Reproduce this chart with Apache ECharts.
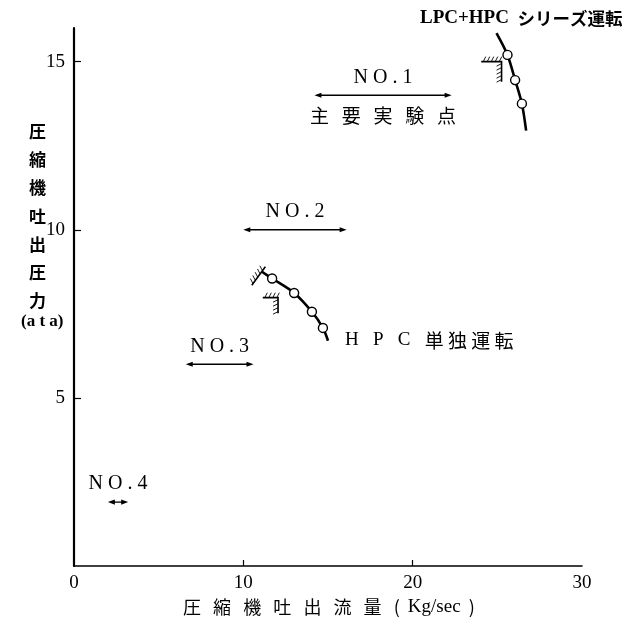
<!DOCTYPE html>
<html><head><meta charset="utf-8">
<script src="https://cdn.jsdelivr.net/npm/echarts@6/dist/echarts.min.js"></script>
<style>html,body{margin:0;padding:0;background:#fff}#chart{width:632px;height:636px}</style>
</head><body><div id="chart"></div>
<script>
// axis ticks
const xLabelValues = [0, 10, 20, 30];
const xTickValues = [10, 20];
const yTickValues = [5, 10, 15];

// LPC+HPC series operation line (flow kg/s, delivery pressure ata)
const seriesFlow = [24.95, 25.6, 26.05, 26.45, 26.7];
const seriesPressure = [15.85, 15.2, 14.45, 13.75, 12.95];
const seriesMeasured = [false, true, true, true, false];

// HPC alone operation line
const singleFlow = [11.1, 11.7, 13.0, 14.05, 14.7, 15.0];
const singlePressure = [8.75, 8.55, 8.12, 7.56, 7.08, 6.7];
const singleMeasured = [false, true, true, true, true, false];

// operating ranges
const rangeNames = ['NO.1', 'NO.2', 'NO.3', 'NO.4'];
const rangeFrom = [14.2, 10.0, 6.6, 2.0];
const rangeTo = [22.3, 16.1, 10.6, 3.2];
const rangeLevel = [14.0, 10.0, 6.0, 1.9];
const rangeNotes = ['主要実験点', '', '', ''];

// surge limit marks (polylines, hatched on the upper-left side)
const surgeMarks = [
  [[24.05, 15.0], [25.25, 15.0], [25.25, 14.4]],
  [[11.15, 7.98], [12.05, 7.98], [12.05, 7.52]],
  [[10.5, 8.35], [11.3, 8.9]]
];

const serif = '"Liberation Serif", "Noto Sans CJK JP", serif';
const cjk = '"Noto Sans CJK JP", "Liberation Serif", sans-serif';

// spread characters apart with a given number of spaces
const spread = (s, n) => s.split('').join(' '.repeat(n));

function lineData(xs, ys, marked) {
  return xs.map((x, i) => ({ value: [x, ys[i]], symbol: marked[i] ? 'circle' : 'none' }));
}

function renderRange(params, api) {
  const i = api.value(3);
  const a = api.coord([api.value(0), api.value(2)]);
  const b = api.coord([api.value(1), api.value(2)]);
  const y = a[1];
  const h = 7, w = 2.6;
  const cx = (a[0] + b[0]) / 2;
  const children = [
    { type: 'line', shape: { x1: a[0] + 3, y1: y, x2: b[0] - 3, y2: y }, style: { stroke: '#000', lineWidth: 1.3 } },
    { type: 'polygon', shape: { points: [[a[0], y], [a[0] + h, y - w], [a[0] + h, y + w]] }, style: { fill: '#000' } },
    { type: 'polygon', shape: { points: [[b[0], y], [b[0] - h, y - w], [b[0] - h, y + w]] }, style: { fill: '#000' } },
    { type: 'text', style: { text: spread(rangeNames[i], 1), x: cx, y: y - 18, align: 'center', verticalAlign: 'middle', font: '20px ' + serif, fill: '#000' } }
  ];
  if (rangeNotes[i]) {
    children.push({ type: 'text', style: { text: spread(rangeNotes[i], 3), x: cx, y: y + 21, align: 'center', verticalAlign: 'middle', font: '19px ' + cjk, fill: '#000' } });
  }
  return { type: 'group', children };
}

function renderSurge(params, api) {
  const pts = surgeMarks[params.dataIndex].map(p => api.coord(p));
  const children = [{ type: 'polyline', shape: { points: pts }, style: { stroke: '#000', lineWidth: 1.6, fill: null } }];
  for (let k = 0; k < pts.length - 1; k++) {
    const p = pts[k], q = pts[k + 1];
    const dx = q[0] - p[0], dy = q[1] - p[1];
    const len = Math.hypot(dx, dy);
    const ux = dx / len, uy = dy / len;
    let nx = uy, ny = -ux;
    if (nx + ny > 0) { nx = -nx; ny = -ny; }
    for (let s = 2; s < len - 1; s += 4) {
      const bx = p[0] + ux * s, by = p[1] + uy * s;
      const ex = bx + nx * 5 + ux * 2.5, ey = by + ny * 5 + uy * 2.5;
      children.push({ type: 'line', shape: { x1: bx, y1: by, x2: ex, y2: ey }, style: { stroke: '#000', lineWidth: 0.9 } });
    }
  }
  return { type: 'group', children };
}

const chart = echarts.init(document.getElementById('chart'), null, { renderer: 'canvas' });
chart.setOption({
  animation: false,
  backgroundColor: '#fff',
  grid: { left: 74, right: 50, top: 28, bottom: 70, containLabel: false },
  xAxis: {
    type: 'value', min: 0, max: 30, interval: 10,
    axisLine: { lineStyle: { color: '#000', width: 1.6 } },
    axisTick: { inside: true, length: 6, customValues: xTickValues, lineStyle: { color: '#000', width: 1.2 } },
    axisLabel: { customValues: xLabelValues, margin: 8, color: '#000', fontSize: 19, fontFamily: serif },
    splitLine: { show: false }
  },
  yAxis: {
    type: 'value', min: 0, max: 16, interval: 5,
    axisLine: { lineStyle: { color: '#000', width: 2.2 } },
    axisTick: { inside: true, length: 7, customValues: yTickValues, lineStyle: { color: '#000', width: 1.2 } },
    axisLabel: { customValues: yTickValues, margin: 9, color: '#000', fontSize: 19, fontFamily: serif },
    splitLine: { show: false }
  },
  series: [
    {
      type: 'line', name: 'LPC+HPC', data: lineData(seriesFlow, seriesPressure, seriesMeasured),
      smooth: 0.3, showAllSymbol: true, symbolSize: 9,
      lineStyle: { color: '#000', width: 2.6 },
      itemStyle: { color: '#fff', borderColor: '#000', borderWidth: 1.4 }, z: 3
    },
    {
      type: 'line', name: 'HPC', data: lineData(singleFlow, singlePressure, singleMeasured),
      smooth: 0.3, showAllSymbol: true, symbolSize: 9,
      lineStyle: { color: '#000', width: 2.6 },
      itemStyle: { color: '#fff', borderColor: '#000', borderWidth: 1.4 }, z: 3
    },
    {
      type: 'custom', renderItem: renderRange, silent: true,
      encode: { x: [0, 1], y: 2 },
      data: rangeNames.map((n, i) => [rangeFrom[i], rangeTo[i], rangeLevel[i], i])
    },
    {
      type: 'custom', renderItem: renderSurge, silent: true,
      encode: { x: 0, y: 1 },
      data: surgeMarks.map(m => m[0])
    }
  ],
  graphic: [
    {
      type: 'text', left: 420, top: 9,
      style: {
        text: '{a|LPC+HPC}  {b|シリーズ運転}',
        rich: {
          a: { font: 'bold 19px ' + serif, fill: '#000' },
          b: { font: 'bold 17.5px ' + cjk, fill: '#000' }
        },
        font: 'bold 17px ' + serif
      }
    },
    {
      type: 'text', left: 345, top: 331,
      style: {
        text: '{a|H   P   C   }{b|単 独 運 転}',
        rich: {
          a: { font: '19px ' + serif, fill: '#000' },
          b: { font: '19px ' + cjk, fill: '#000' }
        },
        font: '19px ' + serif
      }
    },
    { type: 'text', left: 29, top: 117, style: { text: '圧\n縮\n機\n吐\n出\n圧\n力', font: 'bold 17px ' + cjk, lineHeight: 28.3, align: 'left', fill: '#000' } },
    { type: 'text', left: 21, top: 313, style: { text: '(a t a)', font: 'bold 17px ' + serif, fill: '#000' } },
    {
      type: 'text', left: 183, top: 598,
      style: {
        text: '{b|' + spread('圧縮機吐出流量', 3) + '   (  }{a|Kg/sec}{b|  )}',
        rich: {
          a: { font: '19px ' + serif, fill: '#000' },
          b: { font: '18px ' + cjk, fill: '#000' }
        },
        font: '18px ' + cjk
      }
    }
  ]
});
</script>
</body></html>
